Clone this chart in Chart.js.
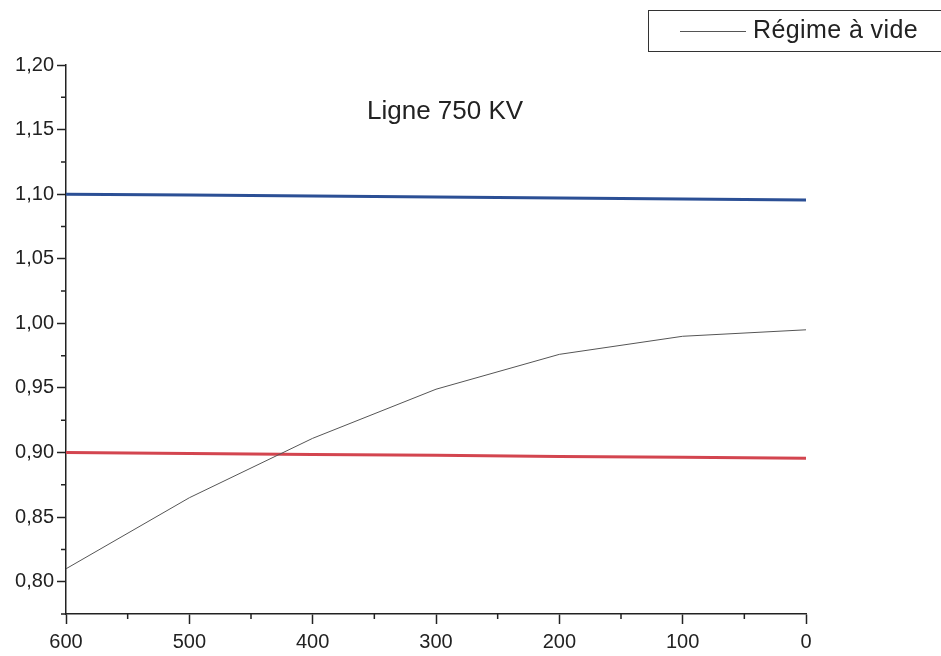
<!DOCTYPE html>
<html>
<head>
<meta charset="utf-8">
<script src="https://cdn.jsdelivr.net/npm/chart.js@4"></script>
<style>
  html, body { margin: 0; padding: 0; background: #fff; }
  #wrap { position: relative; width: 941px; height: 656px; font-family: "Liberation Sans", Arial, sans-serif; }
  #titre { position: absolute; left: 367px; top: 95px; font-size: 26px; color: #222; white-space: nowrap; }
  #legende { position: absolute; left: 648px; top: 10px; width: 310px; height: 42px; border: 1.5px solid #333; box-sizing: border-box; }
  #legende .trait { position: absolute; left: 31px; top: 20px; width: 66px; border-top: 1px solid #555; }
  #legende .texte { position: absolute; left: 104px; top: 4px; font-size: 25px; letter-spacing: 0.4px; color: #222; white-space: nowrap; }
</style>
</head>
<body>
<div id="wrap">
  <canvas id="chart" width="941" height="656"></canvas>
  <div id="titre">Ligne 750 KV</div>
  <div id="legende"><div class="trait"></div><div class="texte">Régime à vide</div></div>
</div>
<script>
// longueur (km) -> tension (pu)
const longueurs = [600, 500, 400, 300, 200, 100, 0];
const regimeVide = [0.810, 0.865, 0.911, 0.949, 0.976, 0.990, 0.995];
const limiteHaute = [1.100, 1.0993, 1.0985, 1.0978, 1.097, 1.0963, 1.0955];
const limiteBasse = [0.900, 0.8993, 0.8985, 0.8978, 0.897, 0.8963, 0.8955];

const xTicks = [0, 100, 200, 300, 400, 500, 600];
const xMinor = [50, 150, 250, 350, 450, 550];
const yTicks = [0.80, 0.85, 0.90, 0.95, 1.00, 1.05, 1.10, 1.15, 1.20];
const yMinor = [0.775, 0.825, 0.875, 0.925, 0.975, 1.025, 1.075, 1.125, 1.175];

function points(ys) {
  return longueurs.map((x, i) => ({ x: x, y: ys[i] }));
}

// petites graduations
const graduations = {
  id: "graduations",
  afterDraw(chart) {
    const ctx = chart.ctx;
    const xs = chart.scales.x;
    const ys = chart.scales.y;
    const area = chart.chartArea;
    ctx.save();
    ctx.strokeStyle = "#222";
    ctx.lineWidth = 1.5;
    ctx.beginPath();
    xMinor.forEach(v => {
      const px = xs.getPixelForValue(v);
      ctx.moveTo(px, area.bottom);
      ctx.lineTo(px, area.bottom + 5);
    });
    yMinor.forEach(v => {
      const py = ys.getPixelForValue(v);
      ctx.moveTo(area.left, py);
      ctx.lineTo(area.left - 5, py);
    });
    ctx.stroke();
    ctx.restore();
  }
};

const police = { family: "'Liberation Sans', Arial, sans-serif", size: 20 };

new Chart(document.getElementById("chart").getContext("2d"), {
  type: "line",
  data: {
    datasets: [
      {
        label: "Régime à vide",
        data: points(regimeVide),
        borderColor: "#555",
        borderWidth: 1,
        pointRadius: 0,
        tension: 0
      },
      {
        label: "limite haute",
        data: points(limiteHaute),
        borderColor: "#2b4f95",
        borderWidth: 3,
        pointRadius: 0
      },
      {
        label: "limite basse",
        data: points(limiteBasse),
        borderColor: "#d3454f",
        borderWidth: 3,
        pointRadius: 0
      }
    ]
  },
  options: {
    responsive: false,
    animation: false,
    layout: { padding: { top: 65, right: 135, bottom: 0, left: 0 } },
    plugins: {
      legend: { display: false },
      tooltip: { enabled: false }
    },
    scales: {
      x: {
        type: "linear",
        reverse: true,
        min: 0,
        max: 600,
        afterBuildTicks: s => { s.ticks = xTicks.map(v => ({ value: v })); },
        afterFit: s => { s.height = 42; },
        border: { display: true, color: "#222", width: 1.5 },
        grid: { drawOnChartArea: false, drawTicks: true, tickLength: 10, tickColor: "#222", tickWidth: 1.5 },
        ticks: { color: "#222", font: police, padding: 6, maxRotation: 0, callback: v => String(v) }
      },
      y: {
        type: "linear",
        min: 0.775,
        max: 1.20,
        afterBuildTicks: s => { s.ticks = yTicks.map(v => ({ value: v })); },
        afterFit: s => { s.width = 66; },
        border: { display: true, color: "#222", width: 1.5 },
        grid: { drawOnChartArea: false, drawTicks: true, tickLength: 9, tickColor: "#222", tickWidth: 1.5 },
        ticks: { color: "#222", font: police, padding: 3, callback: v => v.toFixed(2).replace(".", ",") }
      }
    }
  },
  plugins: [graduations]
});
</script>
</body>
</html>
